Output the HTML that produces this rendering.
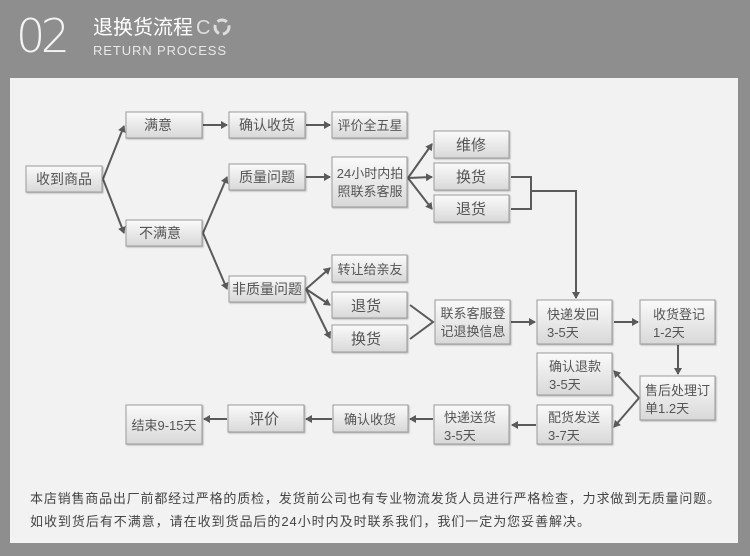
<!DOCTYPE html>
<html><head><meta charset="utf-8"><style>
html,body{margin:0;padding:0;width:750px;height:556px;overflow:hidden;background:#8e8e8e;}
svg{display:block}
text{font-family:"Liberation Sans","Noto Sans CJK SC",sans-serif;}
.b{fill:url(#g);stroke:#9a9a9a;stroke-width:1;filter:url(#sh)}
.t{font-size:14px;fill:#555;text-anchor:middle}
.s{font-size:13px;fill:#555}
.l{stroke:#5a5a5a;stroke-width:2;fill:none}
</style></head><body>
<svg width="750" height="556" viewBox="0 0 750 556">
<defs>
<linearGradient id="g" x1="0" y1="0" x2="0" y2="1"><stop offset="0" stop-color="#fafafa"/><stop offset="1" stop-color="#d8d8d8"/></linearGradient>
<filter id="sh" x="-10%" y="-10%" width="130%" height="140%"><feDropShadow dx="1" dy="1" stdDeviation="0.8" flood-color="#000" flood-opacity="0.25"/></filter>
<marker id="a" markerWidth="8" markerHeight="8" refX="6" refY="4" orient="auto" markerUnits="userSpaceOnUse"><path d="M0,0 L7,4 L0,8 Z" fill="#5a5a5a"/></marker>
</defs>
<rect x="0" y="0" width="750" height="556" fill="#8e8e8e"/>
<text x="16" y="52" font-size="46" fill="#f4f4f4" font-weight="100" style="font-family:'DejaVu Sans','Liberation Sans',sans-serif;font-weight:200" textLength="54">02</text>
<text x="93" y="34" font-size="20" fill="#fff">退换货流程</text>
<text x="196" y="34" font-size="20" fill="#ddd">C</text>
<circle cx="222" cy="27" r="7" fill="none" stroke="#ddd" stroke-width="3" stroke-dasharray="10 4"/>
<text x="93" y="55" font-size="13" fill="#e8e8e8" textLength="133">RETURN PROCESS</text>
<rect x="10" y="78" width="728" height="465" fill="#f2f2f2"/>

<!-- connectors -->
<g class="l">
<path d="M103,179 L124,126" marker-end="url(#a)"/>
<path d="M103,179 L124,233" marker-end="url(#a)"/>
<path d="M203,125 L227,125" marker-end="url(#a)"/>
<path d="M306,125 L330,125" marker-end="url(#a)"/>
<path d="M203,233 L227,177" marker-end="url(#a)"/>
<path d="M203,233 L227,289" marker-end="url(#a)"/>
<path d="M306,177 L330,177" marker-end="url(#a)"/>
<path d="M408,178 L432,144" marker-end="url(#a)"/>
<path d="M408,178 L432,177" marker-end="url(#a)"/>
<path d="M408,178 L432,209" marker-end="url(#a)"/>
<path d="M511,177 L531,177 L531,209 L511,209"/>
<path d="M531,191 L576,191 L576,298" marker-end="url(#a)"/>
<path d="M306,289 L330,268" marker-end="url(#a)"/>
<path d="M306,289 L330,305" marker-end="url(#a)"/>
<path d="M306,289 L330,338" marker-end="url(#a)"/>
<path d="M410,305 L433,322 L410,339"/>
<path d="M511,322 L535,322" marker-end="url(#a)"/>
<path d="M614,322 L638,322" marker-end="url(#a)"/>
<path d="M678,345 L678,374" marker-end="url(#a)"/>
<path d="M639,398 L614,371" marker-end="url(#a)"/>
<path d="M639,398 L614,427" marker-end="url(#a)"/>
<path d="M536,425 L512,425" marker-end="url(#a)"/>
<path d="M433,419 L410,419" marker-end="url(#a)"/>
<path d="M332,419 L306,419" marker-end="url(#a)"/>
<path d="M227,419 L204,419" marker-end="url(#a)"/>
</g>

<!-- boxes -->
<rect class="b" x="26" y="166" width="76" height="26"/><text class="t" x="64" y="184">收到商品</text>
<rect class="b" x="126" y="112" width="76" height="26"/><text class="t" x="158" y="130">满意</text>
<rect class="b" x="126" y="220" width="76" height="26"/><text class="t" x="160" y="238">不满意</text>
<rect class="b" x="229" y="112" width="76" height="26"/><text class="t" x="267" y="130">确认收货</text>
<rect class="b" x="229" y="164" width="76" height="26"/><text class="t" x="267" y="182">质量问题</text>
<rect class="b" x="229" y="276" width="76" height="26"/><text class="t" x="267" y="294" font-size="13">非质量问题</text>
<rect class="b" x="332" y="112" width="75" height="26"/><text class="t" x="370" y="130" style="font-size:13px">评价全五星</text>
<rect class="b" x="332" y="157" width="75" height="50"/><text class="t" x="370" y="178" style="font-size:13px">24小时内拍</text><text class="t" x="370" y="196" style="font-size:13px">照联系客服</text>
<rect class="b" x="434" y="131" width="75" height="27"/><text class="t" x="471" y="150" style="font-size:15px">维修</text>
<rect class="b" x="434" y="163" width="75" height="27"/><text class="t" x="471" y="182" style="font-size:15px">换货</text>
<rect class="b" x="434" y="195" width="75" height="27"/><text class="t" x="471" y="214" style="font-size:15px">退货</text>
<rect class="b" x="332" y="255" width="75" height="27"/><text class="t" x="370" y="274" style="font-size:13px">转让给亲友</text>
<rect class="b" x="332" y="292" width="75" height="26"/><text class="t" x="366" y="311" style="font-size:15px">退货</text>
<rect class="b" x="332" y="325" width="75" height="27"/><text class="t" x="366" y="344" style="font-size:15px">换货</text>
<rect class="b" x="435" y="300" width="75" height="44"/><text class="t" x="473" y="318" style="font-size:13px">联系客服登</text><text class="t" x="473" y="336" style="font-size:13px">记退换信息</text>
<rect class="b" x="537" y="300" width="75" height="44"/><text class="s" x="547" y="319">快递发回</text><text class="s" x="547" y="337">3-5天</text>
<rect class="b" x="640" y="300" width="75" height="44"/><text class="s" x="653" y="319">收货登记</text><text class="s" x="653" y="337">1-2天</text>
<rect class="b" x="537" y="353" width="75" height="42"/><text class="s" x="549" y="371">确认退款</text><text class="s" x="549" y="389">3-5天</text>
<rect class="b" x="640" y="376" width="75" height="44"/><text class="s" x="645" y="395">售后处理订</text><text class="s" x="645" y="413">单1.2天</text>
<rect class="b" x="537" y="405" width="75" height="39"/><text class="s" x="548" y="422">配货发送</text><text class="s" x="548" y="440">3-7天</text>
<rect class="b" x="434" y="405" width="75" height="39"/><text class="s" x="444" y="422">快递送货</text><text class="s" x="444" y="440">3-5天</text>
<rect class="b" x="333" y="405" width="75" height="27"/><text class="t" x="370" y="424" style="font-size:13px">确认收货</text>
<rect class="b" x="228" y="405" width="76" height="27"/><text class="t" x="264" y="424" style="font-size:15px">评价</text>
<rect class="b" x="126" y="405" width="76" height="39"/><text class="t" x="164" y="430" style="font-size:13px">结束9-15天</text>

<text class="s" x="30" y="503" style="fill:#444" textLength="690">本店销售商品出厂前都经过严格的质检，发货前公司也有专业物流发货人员进行严格检查，力求做到无质量问题。</text>
<text class="s" x="30" y="526" style="fill:#444" textLength="560">如收到货后有不满意，请在收到货品后的24小时内及时联系我们，我们一定为您妥善解决。</text>
</svg>
</body></html>
